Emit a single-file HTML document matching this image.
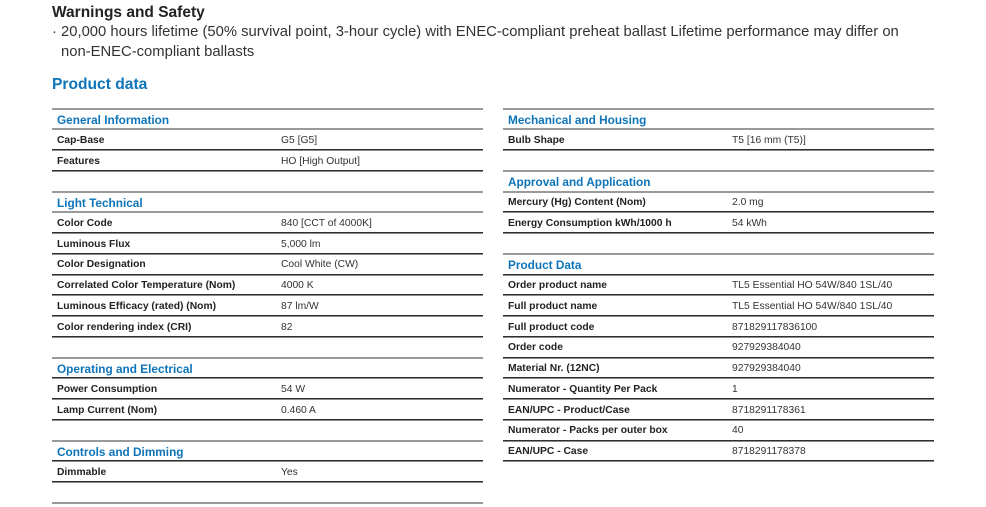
<!DOCTYPE html>
<html><head><meta charset="utf-8">
<style>
html,body{margin:0;padding:0;background:#fff;}
body{width:986px;height:507px;position:relative;overflow:hidden;font-family:"Liberation Sans",Arial,sans-serif;color:#2b2b2b;}
.t{position:absolute;white-space:nowrap;}
.r{position:absolute;height:20px;line-height:20px;white-space:nowrap;font-size:10.2px;margin-top:1.4px;}
.lb{font-weight:bold;color:#222;font-size:10.3px;}
.v{color:#333;font-size:10.3px;}
.h{font-weight:bold;color:#0e74b8;font-size:11.8px;}
.g{position:absolute;height:2px;background:#9a9a9a;}
.d{position:absolute;height:2px;background:linear-gradient(#2e2e2e 55%,#8a8a8a 55%);}
.L{left:52px;width:431px;}
.R{left:503px;width:431px;}
</style></head><body>
<div class="t" style="left:52px;top:2.5px;font-size:15.5px;font-weight:bold;color:#222;line-height:20px;">Warnings and Safety</div>
<div class="t" style="left:52px;top:22px;font-size:14.8px;line-height:20px;color:#333;">·</div>
<div class="t" style="left:61px;top:22px;font-size:14.8px;line-height:20px;color:#333;">20,000 hours lifetime (50% survival point, 3-hour cycle) with ENEC-compliant preheat ballast Lifetime performance may differ on</div>
<div class="t" style="left:61px;top:42px;font-size:14.8px;line-height:20px;color:#333;">non-ENEC-compliant ballasts</div>
<div class="t" style="left:52px;top:75px;font-size:15.6px;font-weight:bold;color:#0e74b8;line-height:20px;">Product data</div>

<!-- left lines -->
<div class="g L" style="top:107.5px"></div>
<div class="g L" style="top:128.25px"></div>
<div class="d L" style="top:149px"></div>
<div class="d L" style="top:169.75px"></div>
<div class="g L" style="top:190.5px"></div>
<div class="g L" style="top:211.25px"></div>
<div class="d L" style="top:232px"></div>
<div class="d L" style="top:252.75px"></div>
<div class="d L" style="top:273.5px"></div>
<div class="d L" style="top:294.25px"></div>
<div class="d L" style="top:315px"></div>
<div class="d L" style="top:335.75px"></div>
<div class="g L" style="top:356.5px"></div>
<div class="d L" style="top:377.25px"></div>
<div class="d L" style="top:398px"></div>
<div class="d L" style="top:418.75px"></div>
<div class="g L" style="top:439.5px"></div>
<div class="d L" style="top:460.25px"></div>
<div class="d L" style="top:481px"></div>
<div class="g L" style="top:501.75px"></div>

<!-- right lines -->
<div class="g R" style="top:107.5px"></div>
<div class="g R" style="top:128.25px"></div>
<div class="d R" style="top:149px"></div>
<div class="g R" style="top:169.75px"></div>
<div class="g R" style="top:190.5px"></div>
<div class="d R" style="top:211.25px"></div>
<div class="d R" style="top:232px"></div>
<div class="g R" style="top:252.75px"></div>
<div class="d R" style="top:273.5px"></div>
<div class="d R" style="top:294.25px"></div>
<div class="d R" style="top:315px"></div>
<div class="d R" style="top:335.75px"></div>
<div class="d R" style="top:356.5px"></div>
<div class="d R" style="top:377.25px"></div>
<div class="d R" style="top:398px"></div>
<div class="d R" style="top:418.75px"></div>
<div class="d R" style="top:439.5px"></div>
<div class="d R" style="top:460.25px"></div>

<!-- left text -->
<div class="r h" style="left:57px;top:108.9px">General Information</div>
<div class="r lb" style="left:57px;top:129.6px">Cap-Base</div><div class="r v" style="left:281px;top:129.6px">G5 [G5]</div>
<div class="r lb" style="left:57px;top:150.4px">Features</div><div class="r v" style="left:281px;top:150.4px">HO [High Output]</div>

<div class="r h" style="left:57px;top:191.9px">Light Technical</div>
<div class="r lb" style="left:57px;top:212.6px">Color Code</div><div class="r v" style="left:281px;top:212.6px">840 [CCT of 4000K]</div>
<div class="r lb" style="left:57px;top:233.4px">Luminous Flux</div><div class="r v" style="left:281px;top:233.4px">5,000 lm</div>
<div class="r lb" style="left:57px;top:254.1px">Color Designation</div><div class="r v" style="left:281px;top:254.1px">Cool White (CW)</div>
<div class="r lb" style="left:57px;top:274.9px">Correlated Color Temperature (Nom)</div><div class="r v" style="left:281px;top:274.9px">4000 K</div>
<div class="r lb" style="left:57px;top:295.6px">Luminous Efficacy (rated) (Nom)</div><div class="r v" style="left:281px;top:295.6px">87 lm/W</div>
<div class="r lb" style="left:57px;top:316.4px">Color rendering index (CRI)</div><div class="r v" style="left:281px;top:316.4px">82</div>

<div class="r h" style="left:57px;top:357.9px">Operating and Electrical</div>
<div class="r lb" style="left:57px;top:378.6px">Power Consumption</div><div class="r v" style="left:281px;top:378.6px">54 W</div>
<div class="r lb" style="left:57px;top:399.4px">Lamp Current (Nom)</div><div class="r v" style="left:281px;top:399.4px">0.460 A</div>

<div class="r h" style="left:57px;top:440.9px">Controls and Dimming</div>
<div class="r lb" style="left:57px;top:461.6px">Dimmable</div><div class="r v" style="left:281px;top:461.6px">Yes</div>

<!-- right text -->
<div class="r h" style="left:508px;top:108.9px">Mechanical and Housing</div>
<div class="r lb" style="left:508px;top:129.6px">Bulb Shape</div><div class="r v" style="left:732px;top:129.6px">T5 [16 mm (T5)]</div>

<div class="r h" style="left:508px;top:171.1px">Approval and Application</div>
<div class="r lb" style="left:508px;top:191.9px">Mercury (Hg) Content (Nom)</div><div class="r v" style="left:732px;top:191.9px">2.0 mg</div>
<div class="r lb" style="left:508px;top:212.6px">Energy Consumption kWh/1000 h</div><div class="r v" style="left:732px;top:212.6px">54 kWh</div>

<div class="r h" style="left:508px;top:254.1px">Product Data</div>
<div class="r lb" style="left:508px;top:274.9px">Order product name</div><div class="r v" style="left:732px;top:274.9px">TL5 Essential HO 54W/840 1SL/40</div>
<div class="r lb" style="left:508px;top:295.6px">Full product name</div><div class="r v" style="left:732px;top:295.6px">TL5 Essential HO 54W/840 1SL/40</div>
<div class="r lb" style="left:508px;top:316.4px">Full product code</div><div class="r v" style="left:732px;top:316.4px">871829117836100</div>
<div class="r lb" style="left:508px;top:337.1px">Order code</div><div class="r v" style="left:732px;top:337.1px">927929384040</div>
<div class="r lb" style="left:508px;top:357.9px">Material Nr. (12NC)</div><div class="r v" style="left:732px;top:357.9px">927929384040</div>
<div class="r lb" style="left:508px;top:378.6px">Numerator - Quantity Per Pack</div><div class="r v" style="left:732px;top:378.6px">1</div>
<div class="r lb" style="left:508px;top:399.4px">EAN/UPC - Product/Case</div><div class="r v" style="left:732px;top:399.4px">8718291178361</div>
<div class="r lb" style="left:508px;top:420.1px">Numerator - Packs per outer box</div><div class="r v" style="left:732px;top:420.1px">40</div>
<div class="r lb" style="left:508px;top:440.9px">EAN/UPC - Case</div><div class="r v" style="left:732px;top:440.9px">8718291178378</div>
</body></html>
